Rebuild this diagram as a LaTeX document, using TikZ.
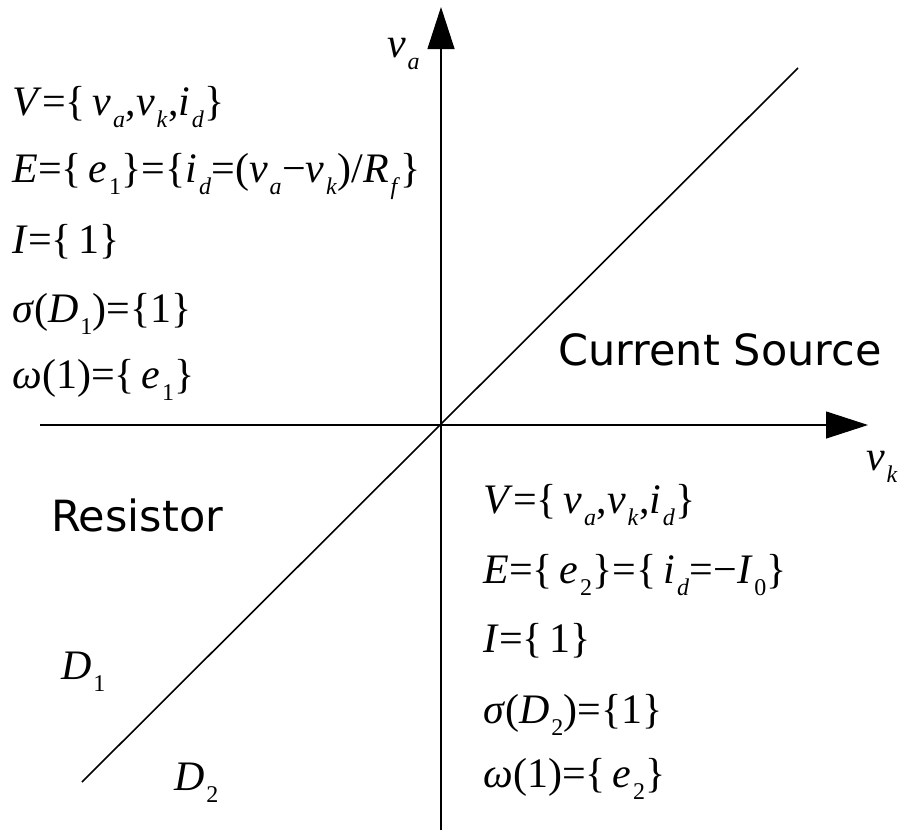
\documentclass[tikz,border=0pt]{standalone}
\usepackage{fontspec}
\setmainfont{Liberation Serif}
\newfontfamily\labelfont{DejaVu Sans}
\usetikzlibrary{arrows.meta,positioning}
% lowered subscripts as in the figure
\newcommand\subx[1]{\kern0.8pt\raisebox{-0.3em}{\fontsize{12}{13}\selectfont #1}\kern0.3pt}
\newcommand\vs[2]{\textit{#1}\subx{\textit{#2}}}
\newcommand\vn[2]{\textit{#1}\subx{#2}}

\begin{document}
\begin{tikzpicture}[x=0.5pt,y=-0.5pt,
eq/.style={anchor=base west,inner sep=0pt,font=\fontsize{21}{25}\selectfont},
word/.style={inner sep=0pt,font=\labelfont\fontsize{21.5}{25}\selectfont},
axis/.style={line width=0.6pt,-{Triangle[length=21pt,width=13.5pt]}},
diag/.style={line width=0.8pt}
]
\useasboundingbox (0,0) rectangle (900,832);
% axes
\coordinate (o) at (441,425);
\coordinate (xl) at (40,425);
\coordinate (xr) at (868,425);
\coordinate (yb) at (441,830);
\coordinate (yt) at (441,7);
\coordinate (dl) at (82,782);
\coordinate (dr) at (798,68);
\draw[axis] (xl) -- (xr);
\draw[axis] (yb) -- (yt);
\draw[diag] (dl) -- (dr);
\node[eq] (va) at (387,57) {\vs{v}{a}};
\node[eq] (vk) at (866,470) {\vs{v}{k}};
% resistor region
\node[eq] (v1) at (12,115) {\textit{V}=\{\,\vs{v}{a},\vs{v}{k},\vs{i}{d}\}};
\node[eq] (e1) at (12,182) {\textit{E}=\{\,\vn{e}{1}\}=\{\vs{i}{d}=(\vs{v}{a}−\vs{v}{k})/\vs{R}{f}\}};
\node[eq] (i1) at (12,253) {\textit{I}=\{\,1\}};
\node[eq] (s1) at (12,322) {\textit{σ}(\vn{D}{1})=\{1\}};
\node[eq] (w1) at (12,388) {\textit{ω}(1)=\{\,\vn{e}{1}\}};
% current source region
\node[eq] (v2) at (483,513) {\textit{V}=\{\,\vs{v}{a},\vs{v}{k},\vs{i}{d}\}};
\node[eq] (e2) at (483,583) {\textit{E}=\{\,\vn{e}{2}\}=\{\,\vs{i}{d}=−\vn{I}{0}\}};
\node[eq] (i2) at (483,652) {\textit{I}=\{\,1\}};
\node[eq] (s2) at (483,723) {\textit{σ}(\vn{D}{2})=\{1\}};
\node[eq] (w2) at (483,787) {\textit{ω}(1)=\{\,\vn{e}{2}\}};
\node[word] (cs) at (720,350) {Current Source};
\node[word] (res) at (137,515) {Resistor};
\node[eq] (d1) at (61,679) {\vn{D}{1}};
\node[eq] (d2) at (174,790) {\vn{D}{2}};
\end{tikzpicture}
\end{document}
